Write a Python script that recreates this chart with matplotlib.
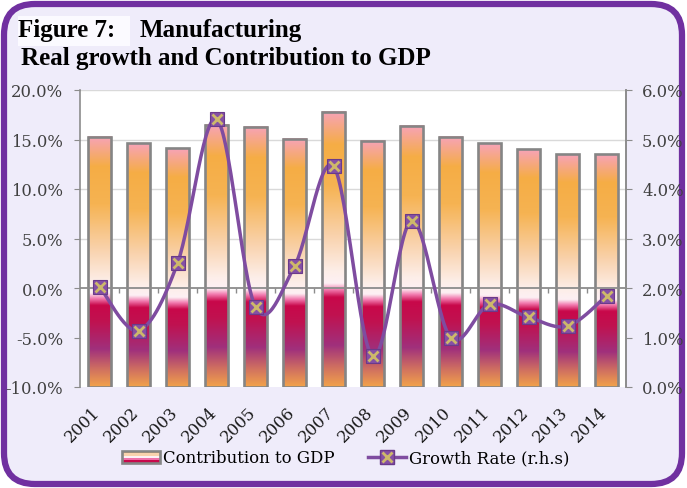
import numpy as np
import matplotlib
matplotlib.use("Agg")
import matplotlib.pyplot as plt
from matplotlib.colors import LinearSegmentedColormap
from matplotlib.patches import FancyBboxPatch, Rectangle
from matplotlib.legend_handler import HandlerBase, HandlerTuple
from matplotlib.lines import Line2D
from matplotlib.transforms import ScaledTranslation

years = ["2001", "2002", "2003", "2004", "2005", "2006", "2007",
         "2008", "2009", "2010", "2011", "2012", "2013", "2014"]
contribution = [15.3, 14.6, 14.1, 16.5, 16.3, 15.1, 17.8,
                14.85, 16.4, 15.3, 14.6, 14.0, 13.5, 13.5]
growth = [2.03, 1.14, 2.5, 5.41, 1.61, 2.44, 4.46,
          0.62, 3.36, 1.0, 1.67, 1.41, 1.23, 1.84]

left_ticks = [-10, -5, 0, 5, 10, 15, 20]
right_ticks = [0, 1, 2, 3, 4, 5, 6]

W, H = 687, 489
fig = plt.figure(figsize=(W / 100, H / 100), dpi=100)
fig.patch.set_facecolor("white")

# card background with purple rounded border
card = FancyBboxPatch((4 / W, 4 / H), 678 / W, 480 / H,
                      boxstyle="round,pad=0,rounding_size=0.045",
                      transform=fig.transFigure, facecolor="#efecfa",
                      edgecolor="#7030a0", linewidth=4.5, zorder=0,
                      mutation_aspect=W / H)
fig.patches.append(card)
# white box behind "Figure 7:"
fig.patches.append(Rectangle((18 / W, 1 - 47 / H), 112 / W, 30 / H,
                             transform=fig.transFigure, facecolor="#fbfaff",
                             edgecolor="none", zorder=0.5))

serif = ["Liberation Serif", "DejaVu Serif"]
fig.text(18 / W, 1 - 37 / H, "Figure 7:", fontsize=18, fontweight="bold",
         family=serif, color="black")
fig.text(140 / W, 1 - 37 / H, "Manufacturing", fontsize=18, fontweight="bold",
         family=serif, color="black")
fig.text(21 / W, 1 - 65 / H, "Real growth and Contribution to GDP", fontsize=18,
         fontweight="bold", family=serif, color="black")

ax = fig.add_axes([80 / W, 1 - 388 / H, (626 - 80) / W, (388 - 91) / H])
ax.set_facecolor("white")
ax.set_zorder(1)

n = len(years)
x = np.arange(n)
bw = 0.59
ymin, ymax = -10, 20

cmap = LinearSegmentedColormap.from_list("bar", [
    (0.00, "#f7a3b8"), (0.12, "#f5ad45"), (0.27, "#f6b352"),
    (0.45, "#f9d2ac"), (0.58, "#fdeee8"), (0.625, "#fdf0f4"),
    (0.648, "#f27aaf"), (0.675, "#c8084a"), (0.74, "#c01250"),
    (0.85, "#a0307c"), (0.93, "#d07060"), (1.00, "#f2a24a")])
grad = np.linspace(0, 1, 512).reshape(-1, 1)

for xi, v in zip(x, contribution):
    ax.imshow(grad, cmap=cmap, aspect="auto", origin="upper",
              extent=(xi - bw / 2, xi + bw / 2, ymin, v), zorder=2,
              interpolation="bilinear")
ax.bar(x, np.array(contribution) - ymin, bottom=ymin, width=bw,
       facecolor="none", edgecolor="#858585", linewidth=1.9, zorder=3)

ax.set_xlim(-0.5, n - 0.5)
ax.set_ylim(ymin, ymax)
for g in [5, 10, 15, 20]:
    ax.axhline(g, color="#d9d9d9", lw=1.0, zorder=0.5)
ax.axhline(0, color="#8c8c8c", lw=1.3, zorder=4)
ax.vlines(np.arange(0.5, n - 0.5, 1), -0.55, 0, color="#8c8c8c", lw=1.0, zorder=4)

for s in ["top", "bottom"]:
    ax.spines[s].set_visible(False)
for s in ["left", "right"]:
    ax.spines[s].set_color("#8c8c8c")
    ax.spines[s].set_linewidth(1.2)

tick_fs = 11.8
ax.set_yticks(left_ticks)
ax.set_yticklabels([f"{t:.1f}%" for t in left_ticks])
ax.tick_params(axis="y", direction="out", length=4, color="#8c8c8c",
               labelsize=tick_fs, labelcolor="#404040", pad=8)
ax.set_xticks(x)
ax.set_xticklabels(years, rotation=45, ha="right", va="top",
                   rotation_mode="anchor")
ax.tick_params(axis="x", length=0, labelsize=tick_fs, labelcolor="#1a1a1a",
               pad=11.5)
shift = ScaledTranslation(-8 / 100, 0, fig.dpi_scale_trans)
for lbl in ax.get_xticklabels():
    lbl.set_transform(lbl.get_transform() + shift)
for lbl in ax.get_xticklabels() + ax.get_yticklabels():
    lbl.set_family(["DejaVu Serif"])

ax2 = ax.twinx()
ax2.set_ylim(0, 6)
ax2.set_yticks(right_ticks)
ax2.set_yticklabels([f"{t:.1f}%" for t in right_ticks])
ax2.tick_params(axis="y", direction="out", length=4, color="#8c8c8c",
                labelsize=tick_fs, labelcolor="#404040", pad=7.5)
for lbl in ax2.get_yticklabels():
    lbl.set_family(["DejaVu Serif"])
for s in ["top", "bottom", "left"]:
    ax2.spines[s].set_visible(False)
ax2.spines["right"].set_color("#8c8c8c")
ax2.spines["right"].set_linewidth(1.2)


def catmull_rom(px, py, steps=30):
    px = np.asarray(px, float)
    py = np.asarray(py, float)
    P = np.column_stack([px, py])
    P = np.vstack([P[0], P, P[-1]])
    out = []
    t = np.linspace(0, 1, steps, endpoint=False)
    for i in range(1, len(P) - 2):
        p0, p1, p2, p3 = P[i - 1], P[i], P[i + 1], P[i + 2]
        m1 = (p2 - p0) / 2
        m2 = (p3 - p1) / 2
        h00 = 2 * t**3 - 3 * t**2 + 1
        h10 = t**3 - 2 * t**2 + t
        h01 = -2 * t**3 + 3 * t**2
        h11 = t**3 - t**2
        seg = (h00[:, None] * p1 + h10[:, None] * m1 +
               h01[:, None] * p2 + h11[:, None] * m2)
        out.append(seg)
    out.append(P[-2][None, :])
    return np.vstack(out)


curve = catmull_rom(x, growth)
line_color = "#7f4ca0"
ax2.plot(curve[:, 0], curve[:, 1], color=line_color, lw=2.5, zorder=5,
         solid_capstyle="round")
ax2.plot(x, growth, ls="none", marker="s", ms=10.5, mfc="#8550a5",
         mec="#6a3a8a", mew=0.8, zorder=6)
ax2.plot(x, growth, ls="none", marker="x", ms=7.5, mec="#cdb86a", mew=2,
         zorder=7)


class GradientPatchHandler(HandlerBase):
    def create_artists(self, legend, orig_handle, xdescent, ydescent,
                       width, height, fontsize, trans):
        arts = []
        cols = ["#f6b352", "#f9d2ac", "#fdf0f4", "#f070a8", "#c80a4c"]
        hh = height / len(cols)
        for i, c in enumerate(cols):
            r = Rectangle((-xdescent, -ydescent + height - (i + 1) * hh),
                          width, hh, facecolor=c, edgecolor="none",
                          transform=trans)
            arts.append(r)
        arts.append(Rectangle((-xdescent, -ydescent), width, height,
                              facecolor="none", edgecolor="#858585",
                              lw=1.9, transform=trans))
        return arts


bar_handle = Rectangle((0, 0), 1, 1)
h_line = Line2D([], [], color=line_color, lw=2.5, marker="s", ms=10.5,
                mfc="#8550a5", mec="#6a3a8a")
h_x = Line2D([], [], ls="none", marker="x", ms=7.5, mec="#cdb86a", mew=2)
leg = fig.legend([bar_handle, (h_line, h_x)],
                 ["Contribution to GDP", "Growth Rate (r.h.s)"],
                 handler_map={Rectangle: GradientPatchHandler(),
                              tuple: HandlerTuple(ndivide=1)},
                 loc="center", bbox_to_anchor=(346 / W, 1 - 459 / H),
                 ncol=2, frameon=False, handlelength=2.3,
                 handleheight=0.72, columnspacing=2.0, handletextpad=0.18,
                 prop={"family": "DejaVu Serif", "size": 11.9})

fig.savefig("out.png", dpi=100, facecolor=fig.get_facecolor())
